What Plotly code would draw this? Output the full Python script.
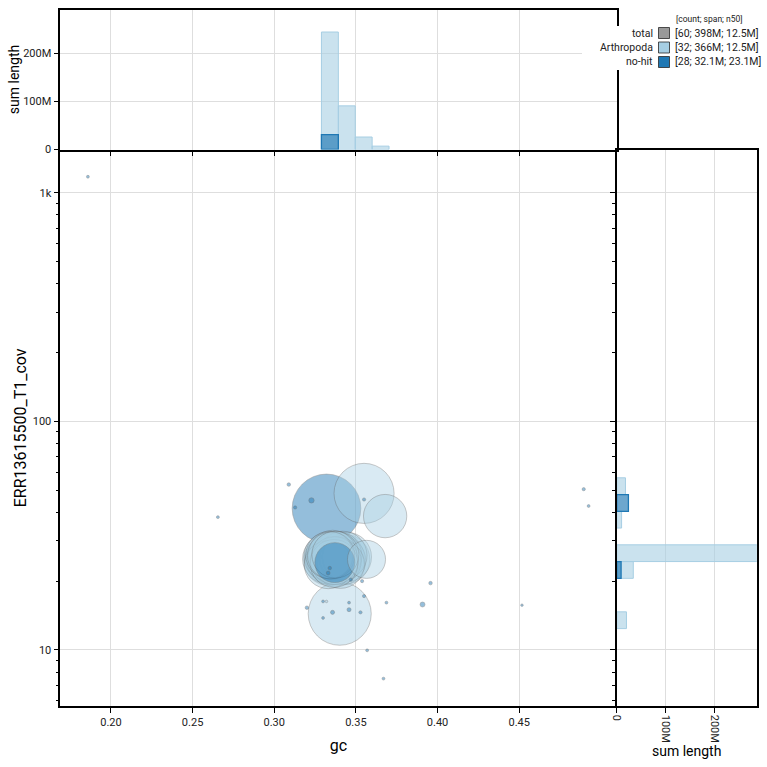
import numpy as np
import plotly.graph_objects as go

# ---------------- data ----------------
legend_labels = ["total", "Arthropoda", "no-hit"]
legend_stats = ["[60; 398M; 12.5M]", "[32; 366M; 12.5M]", "[28; 32.1M; 23.1M]"]
legend_header = "[count; span; n50]"

# Arthropoda contigs: gc, coverage, length (Mb)
arth_gc = [0.3550, 0.3679, 0.3565, 0.3401, 0.3320,
           0.3325, 0.3330, 0.3335, 0.3338, 0.3342, 0.3345, 0.3348, 0.3351, 0.3355, 0.3358,
           0.3361, 0.3364, 0.3368, 0.3371, 0.3374, 0.3378, 0.3381, 0.3385, 0.3388, 0.3331,
           0.3366, 0.3400, 0.3410, 0.3420, 0.3432, 0.3445, 0.3405]
arth_cov = [48.4, 38.5, 24.9, 14.4, 16.3,
            25.0, 25.6, 24.6, 26.0, 25.2, 24.8, 25.9, 24.6, 25.4, 26.2,
            24.9, 25.7, 24.6, 25.1, 26.1, 24.7, 25.5, 24.5, 25.8, 23.6,
            23.9, 25.3, 24.6, 25.9, 24.9, 25.5, 23.7]
arth_len = [17.7, 9.2, 7.1, 19.5, 0.03,
            12.0, 11.5, 12.3, 11.0, 11.8, 12.4, 10.9, 11.6, 12.1, 11.3,
            12.5, 11.9, 11.2, 12.2, 10.8, 11.7, 12.0, 11.4, 11.6, 11.3,
            11.2, 12.1, 11.8, 11.5, 12.3, 11.9, 11.4]

# no-hit contigs
nohit_gc = [0.3320, 0.3371,
            0.1859, 0.2655, 0.3089, 0.3228, 0.3128, 0.3550, 0.3340, 0.3330, 0.3469, 0.3538,
            0.3550, 0.3687, 0.3299, 0.3458, 0.3200, 0.3357, 0.3458, 0.3528, 0.3299, 0.3569,
            0.3669, 0.3957, 0.3908, 0.4517, 0.4895, 0.4925]
nohit_cov = [41.6, 24.1,
             1175, 38.1, 52.9, 45.1, 42.0, 45.5, 22.8, 21.7, 20.3, 20.0,
             17.2, 16.1, 16.3, 16.1, 15.3, 14.6, 15.0, 14.6, 13.8, 9.96,
             7.49, 19.6, 15.8, 15.7, 50.5, 42.6]
nohit_len = [23.1, 7.8,
             0.04, 0.04, 0.06, 0.14, 0.05, 0.05, 0.06, 0.07, 0.05, 0.05,
             0.05, 0.04, 0.04, 0.04, 0.06, 0.08, 0.08, 0.05, 0.04, 0.04,
             0.04, 0.06, 0.12, 0.03, 0.05, 0.04]

# top histogram (sum length by gc bin, Mb)
top_bin_lo = [0.3289, 0.33925, 0.3496, 0.35995]
top_bin_hi = [0.33925, 0.3496, 0.35995, 0.3703]
top_arth = [245, 91, 26, 7]
top_nohit = [31, 0, 0, 0]

# right histogram (sum length by log10 coverage bin, Mb)
right_bin_lo = [1.0933, 1.3132, 1.3865, 1.5331, 1.6064, 1.6797]
right_bin_hi = [1.1666, 1.3865, 1.4598, 1.6064, 1.6797, 1.7530]
right_arth = [20, 34, 288, 10, 0, 18]
right_nohit = [0, 9, 0, 0, 24, 0]

x_ticks = [0.20, 0.25, 0.30, 0.35, 0.40, 0.45]
x_ticktext = ["0.20", "0.25", "0.30", "0.35", "0.40", "0.45"]
y_ticks = [10, 100, 1000]
y_ticktext = ["10", "100", "1k"]
len_ticks = [0, 100, 200]
len_ticktext = ["0", "100M", "200M"]

# ---------------- style ----------------
W = H = 767
FONT = "Roboto"
C_ARTH = (166, 206, 227)
C_NOHIT = (31, 120, 180)
C_TOTAL = (153, 153, 153)
GRID = "#dedede"

def rgba(c, a):
    return f"rgba({c[0]},{c[1]},{c[2]},{a})"

def px(x):
    return x / W

def py(y):
    return 1 - y / H

main_x_dom = [px(60.3), px(616.7)]
right_x_dom = [px(616.7), px(756.7)]
main_y_dom = [py(705.7), py(150)]
top_y_dom = [py(149.5), py(9.5)]

minor_vals = [v * m for m in (1, 10, 100) for v in range(2, 10)] + [6, 7, 8, 9]

fig = go.Figure()

# ---- scatter (all contigs, largest first) ----
gc_all = np.array(arth_gc + nohit_gc)
cov_all = np.array(arth_cov + nohit_cov)
len_all = np.array(arth_len + nohit_len)
col_all = np.array([rgba(C_ARTH, 0.6)] * len(arth_gc) + [rgba(C_NOHIT, 0.68)] * len(nohit_gc))
order = np.argsort(-len_all, kind="stable")
fig.add_trace(go.Scatter(
    x=gc_all[order], y=cov_all[order], mode="markers",
    marker=dict(size=14.28 * np.sqrt(len_all[order]), sizemode="diameter",
                color=list(col_all[order]),
                line=dict(color="rgba(100,100,100,0.7)", width=0.7)),
    xaxis="x", yaxis="y", showlegend=False, hoverinfo="skip"))

# ---- top histogram ----
def add_top(vals, c, lw, fa):
    lo = np.array(top_bin_lo); hi = np.array(top_bin_hi); v = np.array(vals, float)
    m = v > 0
    fig.add_trace(go.Bar(x=((lo + hi) / 2)[m], y=v[m], width=(hi - lo)[m],
                         marker=dict(color=rgba(c, fa), line=dict(color=rgba(c, 1), width=lw)),
                         xaxis="x2", yaxis="y2", showlegend=False, hoverinfo="skip"))

add_top(top_arth, C_ARTH, 1, 0.6)
add_top(top_nohit, C_NOHIT, 1.3, 0.65)

# ---- right histogram ----
def add_right(vals, c, lw, fa):
    lo = 10 ** np.array(right_bin_lo); hi = 10 ** np.array(right_bin_hi); v = np.array(vals, float)
    m = v > 0
    fig.add_trace(go.Bar(y=((lo + hi) / 2)[m], x=v[m], width=(hi - lo)[m], orientation="h",
                         marker=dict(color=rgba(c, fa), line=dict(color=rgba(c, 1), width=lw)),
                         xaxis="x3", yaxis="y3", showlegend=False, hoverinfo="skip"))

add_right(right_arth, C_ARTH, 1, 0.6)
add_right(right_nohit, C_NOHIT, 1.3, 0.65)

axis_common = dict(showline=True, linecolor="black", linewidth=1.6,
                   ticks="outside", ticklen=5, tickwidth=1.2, tickcolor="black",
                   zeroline=False, gridcolor=GRID, gridwidth=1, automargin=False,
                   tickfont=dict(family=FONT, size=11, color="#222"))

fig.update_layout(
    width=W, height=H, margin=dict(l=0, r=0, t=0, b=0, autoexpand=False),
    paper_bgcolor="white", plot_bgcolor="white",
    barmode="overlay", showlegend=False,
    font=dict(family=FONT, color="black"),
    xaxis=dict(domain=main_x_dom, range=[0.169, 0.5097], anchor="y", mirror=False,
               tickvals=x_ticks, ticktext=x_ticktext, showgrid=True,
               title=dict(text="gc", font=dict(family=FONT, size=16), standoff=12),
               **axis_common),
    yaxis=dict(domain=main_y_dom, type="log", range=[0.756, 3.187], anchor="x", mirror=False,
               tickvals=y_ticks, ticktext=y_ticktext, showgrid=True,
               minor=dict(tickmode="array", tickvals=minor_vals, ticks="outside",
                          ticklen=3, tickcolor="black", showgrid=False),
               title=dict(text="ERR13615500_T1_cov", font=dict(family=FONT, size=16), standoff=2),
               **axis_common),
    xaxis2=dict(domain=main_x_dom, range=[0.169, 0.5097], anchor="y2", mirror=True,
                tickvals=x_ticks, showticklabels=False, showgrid=True, **axis_common),
    yaxis2=dict(domain=top_y_dom, range=[0, 292], anchor="x2", mirror=True,
                tickvals=len_ticks, ticktext=len_ticktext, showgrid=True,
                title=dict(text="sum length", font=dict(family=FONT, size=14), standoff=0),
                **axis_common),
    xaxis3=dict(domain=right_x_dom, range=[0, 287], anchor="y3", mirror=True,
                tickvals=len_ticks, ticktext=len_ticktext, tickangle=90, showgrid=True,
                title=dict(text="sum length", font=dict(family=FONT, size=14), standoff=4),
                **axis_common),
    yaxis3=dict(domain=main_y_dom, type="log", range=[0.756, 3.187], anchor="x3", mirror=True,
                tickvals=y_ticks, showticklabels=False, showgrid=True,
                minor=dict(tickmode="array", tickvals=minor_vals, ticks="outside",
                           ticklen=3, tickcolor="black", showgrid=False),
                **axis_common),
)

# ---- legend (custom, BlobToolKit style) ----
shapes = [dict(type="rect", xref="paper", yref="paper", x0=px(582), x1=px(767),
               y0=py(70), y1=py(26), fillcolor="white", line=dict(width=0), layer="above")]
annotations = [dict(text=legend_header, xref="paper", yref="paper", x=px(673.5), y=py(19),
                    xanchor="left", yanchor="middle", showarrow=False,
                    font=dict(family=FONT, size=8.5, color="#222"))]
swatch_cols = [C_TOTAL, C_ARTH, C_NOHIT]
for i, (lab, st, c) in enumerate(zip(legend_labels, legend_stats, swatch_cols)):
    yc = 33 + i * 14.5
    shapes.append(dict(type="rect", xref="paper", yref="paper",
                       x0=px(658.5), x1=px(669.5), y0=py(yc + 5.5), y1=py(yc - 5.5),
                       fillcolor=rgba(c, 1), line=dict(color="rgba(40,40,40,0.8)", width=1),
                       layer="above"))
    annotations.append(dict(text=lab, xref="paper", yref="paper", x=px(654.5), y=py(yc),
                            xanchor="right", yanchor="middle", showarrow=False,
                            font=dict(family=FONT, size=10.5, color="#222")))
    annotations.append(dict(text=st, xref="paper", yref="paper", x=px(673), y=py(yc),
                            xanchor="left", yanchor="middle", showarrow=False,
                            font=dict(family=FONT, size=10.5, color="#222")))
fig.update_layout(shapes=shapes, annotations=annotations)

fig.write_html("out.html")
